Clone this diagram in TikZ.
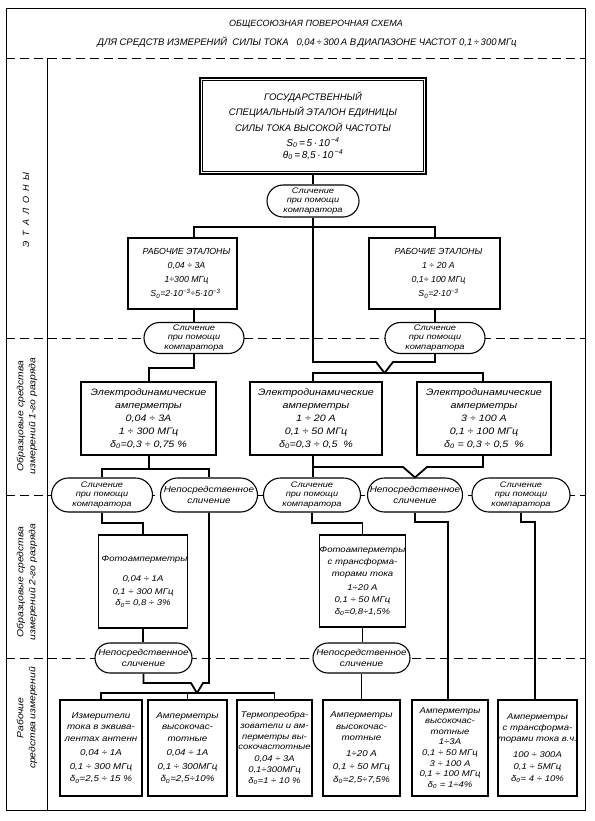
\documentclass[tikz,border=0pt]{standalone}
\usepackage{fontspec}
\setmainfont{Liberation Sans}
\newfontfamily\wf{Liberation Sans}[FakeStretch=1.15]
\usetikzlibrary{shapes.misc}
\pgfdeclarelayer{bg}
\pgfsetlayers{bg,main}
\newcommand\nf[2]{\fontsize{#1}{#2}\selectfont\itshape}
\newcommand\wfs[2]{\wf\fontsize{#1}{#2}\selectfont\itshape}
\newcommand\ssb[1]{\textsubscript{#1}}
\newcommand\ssp[1]{\textsuperscript{#1}}
\begin{document}
\begin{tikzpicture}[x=1pt,y=-1pt,
  box/.style={draw, line width=1.2pt, fill=white, inner sep=0pt, align=center},
  capsule/.style={draw, line width=1.1pt, fill=white, rounded rectangle, inner sep=0pt, align=center},
  conn/.style={line width=1.8pt},
  dl/.style={line width=0.8pt, dash pattern=on 9pt off 5pt},
  frame/.style={line width=0.9pt},
  lab/.style={rotate=90, align=center, inner sep=0pt},
  cap3/.style={font=\wfs{8}{9.6}},
  cap2/.style={font=\wfs{8.6}{10.5}}]
\useasboundingbox (0,0) rectangle (594,821);

% ---- title
\node[font=\nf{9}{11}] (title1) at (316,24) {ОБЩЕСОЮЗНАЯ ПОВЕРОЧНАЯ СХЕМА};
\node[font=\nf{9.5}{11}] (title2) at (307,42) {ДЛЯ СРЕДСТВ ИЗМЕРЕНИЙ\ \ СИЛЫ ТОКА\ \ \ 0,04\,÷\,300\,А В\,ДИАПАЗОНЕ ЧАСТОТ 0,1\,÷\,300\,МГц};

% ---- left labels
\node[lab, font=\nf{9}{11}] (lab1) at (26,210) {Э\ \ Т\ \ А\ \ Л\ \ О\ \ Н\ \ Ы};
\node[lab, font=\wfs{9}{12}] (lab2) at (27,416) {Образцовые средства\\измерений 1-го разряда};
\node[lab, font=\wfs{9}{12}] (lab3) at (27,582) {Образцовые средства\\измерений 2-го разряда};
\node[lab, font=\wfs{9}{12}] (lab4) at (27,718) {Рабочие\\средства измерений};

% ---- standards
\node[box, line width=1.5pt, minimum width=226pt, minimum height=96pt, font=\nf{9.5}{12}] (main) at (313,126)
 {ГОСУДАРСТВЕННЫЙ\\[3.5pt] СПЕЦИАЛЬНЫЙ ЭТАЛОН ЕДИНИЦЫ\\[3.5pt] СИЛЫ ТОКА ВЫСОКОЙ ЧАСТОТЫ\\[3pt]
  {\fontsize{10}{12}\selectfont S\ssb{0}\,=\,5\,·\,10\ssp{\,−4}}\\[0pt]
  {\fontsize{10}{12}\selectfont θ\ssb{0}\,=\,8,5\,·\,10\ssp{\,−4}}};
\draw[line width=0.7pt] ([shift={(3.5,3.5)}]main.north west) rectangle ([shift={(-3.5,-3.5)}]main.south east);

\node[capsule, cap3, minimum width=92pt, minimum height=32pt] (c0) at (313,201) {Сличение\\при помощи\\компаратора};

\node[box, minimum width=109pt, minimum height=71pt, font=\nf{8.8}{14}] (wsl) at (182.5,273.5)
 {\hspace*{8pt}РАБОЧИЕ ЭТАЛОНЫ\\\hspace*{8pt}0,04 ÷ 3А\\\hspace*{8pt}1÷300 МГц\\\hspace*{6pt}S\ssb{0}=2·10\ssp{−3}÷5·10\ssp{−3}};
\node[box, minimum width=131pt, minimum height=71pt, font=\nf{8.8}{14}] (wsr) at (434.5,273.5)
 {\hspace*{8pt}РАБОЧИЕ ЭТАЛОНЫ\\\hspace*{8pt}1 ÷ 20 А\\\hspace*{8pt}0,1÷ 100 МГц\\\hspace*{8pt}S\ssb{0}=2·10\ssp{−3}};

\node[capsule, cap3, minimum width=100pt, minimum height=31pt] (c1l) at (194,338) {Сличение\\при помощи\\компаратора};
\node[capsule, cap3, minimum width=100pt, minimum height=31pt] (c1r) at (435,338) {Сличение\\при помощи\\компаратора};

% ---- 1st rank
\node[box, minimum width=135pt, minimum height=73pt, font=\wfs{9.3}{13}] (ea) at (148.5,418.5)
 {Электродинамические\\амперметры\\0,04 ÷ 3А\\1 ÷ 300 МГц\\δ\ssb{0}=0,3 ÷ 0,75 \%};
\node[box, minimum width=132pt, minimum height=73pt, font=\wfs{9.3}{13}] (eb) at (316,418.5)
 {Электродинамические\\амперметры\\1 ÷ 20 А\\0,1 ÷ 50 МГц\\δ\ssb{0}=0,3 ÷ 0,5 \ \%};
\node[box, minimum width=134pt, minimum height=73pt, font=\wfs{9.3}{13}] (ec) at (484,418.5)
 {Электродинамические\\амперметры\\3 ÷ 100 А\\0,1 ÷ 100 МГц\\δ\ssb{0} = 0,3 ÷ 0,5 \ \%};

\node[capsule, cap3, minimum width=101pt, minimum height=34pt] (k1) at (102,495) {Сличение\\при помощи\\компаратора};
\node[capsule, cap2, minimum width=97pt, minimum height=34pt] (k2) at (209,495) {Непосредственное\\сличение};
\node[capsule, cap3, minimum width=97pt, minimum height=34pt] (k3) at (312,495) {Сличение\\при помощи\\компаратора};
\node[capsule, cap2, minimum width=95pt, minimum height=34pt] (k4) at (415,495) {Непосредственное\\сличение};
\node[capsule, cap3, minimum width=98pt, minimum height=34pt] (k5) at (521,495) {Сличение\\при помощи\\компаратора};

% ---- 2nd rank
\node[box, minimum width=79pt, minimum height=93pt, font=\wfs{8.3}{14}] (ph1) at (143,581.5)
 {\hspace*{3pt}Фотоамперметры\\[6pt]0,04 ÷ 1А\\[-1pt]0,1 ÷ 300 МГц\\[-3pt]δ\ssb{0}= 0,8 ÷ 3\%};
\node[box, minimum width=79pt, minimum height=92pt, font=\wfs{8.3}{12}] (ph2) at (362.5,581)
 {Фотоамперметры\\с трансформа-\\торами тока\\[2pt]1÷20 А\\0,1 ÷ 50 МГц\\δ\ssb{0}=0,8÷1,5\%};

\node[capsule, cap2, minimum width=97pt, minimum height=30pt] (kl) at (143.5,658) {Непосредственное\\сличение};
\node[capsule, cap2, minimum width=97pt, minimum height=30pt] (km) at (361.5,658) {Непосредственное\\сличение};

% ---- working
\node[box, minimum width=82pt, minimum height=96pt, font=\wfs{8.5}{11.5}] (w1) at (101,748)
 {Измерители\\тока в эквива-\\лентах антенн\\[3pt]0,04 ÷ 1А\\[2pt]0,1 ÷ 300 МГц\\[1pt]δ\ssb{0}=2,5 ÷ 15 \%};
\node[box, minimum width=79pt, minimum height=96pt, font=\wfs{8.5}{11.5}] (w2) at (187.5,748)
 {Амперметры\\высокочас-\\тотные\\[3pt]0,04 ÷ 1А\\[2pt]0,1 ÷ 300МГц\\[1pt]δ\ssb{0}=2,5÷10\%};
\node[box, minimum width=75pt, minimum height=96pt, font=\wfs{8.2}{10.8}] (w3) at (274.5,748)
 {Термопреобра-\\зователи и ам-\\перметры вы-\\сокочастотные\\[1pt]0,04 ÷ 3А\\0,1÷300МГц\\δ\ssb{0}=1 ÷ 10 \%};
\node[box, minimum width=77pt, minimum height=96pt, font=\wfs{8.5}{11.5}] (w4) at (361.5,748)
 {Амперметры\\высокочас-\\тотные\\[4pt]1÷20 А\\[2pt]0,1 ÷ 50 МГц\\[1pt]δ\ssb{0}=2,5÷7,5\%};
\node[box, minimum width=76pt, minimum height=96pt, font=\wfs{8.3}{10.6}] (w5) at (450,748)
 {Амперметры\\высокочас-\\тотные\\1÷3А\\0,1 ÷ 50 МГц\\3 ÷ 100 А\\0,1 ÷ 100 МГц\\δ\ssb{0} = 1÷4\%};
\node[box, minimum width=79pt, minimum height=96pt, font=\wfs{8.3}{11}] (w6) at (537.5,748)
 {Амперметры\\с трансформа-\\торами тока в.ч.\\[5pt]100 ÷ 300А\\[1pt]0,1 ÷ 5МГц\\[1pt]δ\ssb{0}= 4 ÷ 10\%};

% ---- background: frame, section lines, connectors
\begin{pgfonlayer}{bg}
\coordinate (NW) at (6,8); \coordinate (SE) at (585,810);
\coordinate (colT) at (47,58); \coordinate (colB) at (47,810);
\draw[frame] (NW) rectangle (SE);
\draw[frame] (colT) -- (colB);
\foreach \yy in {58,338,495,658} \draw[dl] (NW |- 0,\yy) -- (SE |- 0,\yy);

% top
\coordinate (t0) at (313,227); \coordinate (tl) at (194,227); \coordinate (tr) at (435,227);
\draw[conn] (main.south) -- (c0.north);
\draw[conn] (c0.south) -- (t0);
\draw[conn] (tl |- wsl.north) -- (tl) -- (tr) -- (tr |- wsr.north);
\draw[conn] (tl |- wsl.south) -- (c1l.north);
\draw[conn] (tr |- wsr.south) -- (c1r.north);
% main vertical and right branch merging on the 1st-rank bar
\coordinate (m1) at (313,362); \coordinate (m2) at (376,362);
\coordinate (m3) at (393,362); \coordinate (m4) at (435,362);
\coordinate (vA) at (384.5,373);
\coordinate (bB) at (313,373); \coordinate (bC) at (483,373);
\draw[conn] (t0) -- (m1) -- (m2) -- (vA);
\draw[conn] (c1r.south) -- (m4) -- (m3) -- (vA);
\draw[conn] (bB |- eb.north) -- (bB) -- (bC) -- (bC |- ec.north);
% left branch
\coordinate (l1) at (194,368); \coordinate (l2) at (149,368);
\draw[conn] (c1l.south) -- (l1) -- (l2) -- (l2 |- ea.north);
% 1st rank to caps
\coordinate (a1) at (149,469); \coordinate (a2) at (102,469); \coordinate (a3) at (209,469);
\draw[conn] (a1 |- ea.south) -- (a1);
\draw[conn] (k1.north) -- (a2) -- (a3) -- (k2.north);
\coordinate (b1) at (313,467); \coordinate (b2) at (403,467);
\draw[conn] (bB |- eb.south) -- (bB |- k3.north);
\draw[conn] (b1) -- (b2) -- (k4.north);
\coordinate (cc1) at (483,467); \coordinate (cc2) at (427,467);
\draw[conn] (bC |- ec.south) -- (cc1) -- (cc2) -- (k4.north);
% caps to 2nd rank
\coordinate (p1a) at (102,523); \coordinate (p1b) at (143,523);
\draw[conn] (k1.south) -- (p1a) -- (p1b) -- (ph1.north);
\draw[conn] (ph1.south) -- (kl.north -| ph1.south);
\coordinate (p2a) at (312,523); \coordinate (p2b) at (362.5,523);
\draw[conn] (k3.south) -- (p2a) -- (p2b) -- (ph2.north);
\draw[conn] (ph2.south) -- (km.north -| ph2.south);
\draw[conn] (km.south) -- (w4.north -| km.south);
\coordinate (q1) at (415,522); \coordinate (q2) at (448,522);
\draw[conn] (k4.south) -- (q1) -- (q2) -- (q2 |- w5.north);
\coordinate (r1) at (521,522); \coordinate (r2) at (535,522);
\draw[conn] (k5.south) -- (r1) -- (r2) -- (r2 |- w6.north);
% to working instruments 1-3
\coordinate (s1) at (209,683); \coordinate (s2) at (203,683);
\coordinate (s3) at (143.5,683); \coordinate (s4) at (191,683);
\coordinate (vW) at (197,693);
\draw[conn] (k2.south) -- (s1) -- (s2) -- (vW);
\draw[conn] (kl.south) -- (s3) -- (s4) -- (vW);
\coordinate (w1b) at (101,693); \coordinate (w2b) at (187.5,693); \coordinate (w3b) at (274.5,693);
\draw[conn] (w1.north) -- (w1b) -- (w3b) -- (w3.north);
\draw[conn] (w2b) -- (w2.north);
\end{pgfonlayer}
\end{tikzpicture}
\end{document}
